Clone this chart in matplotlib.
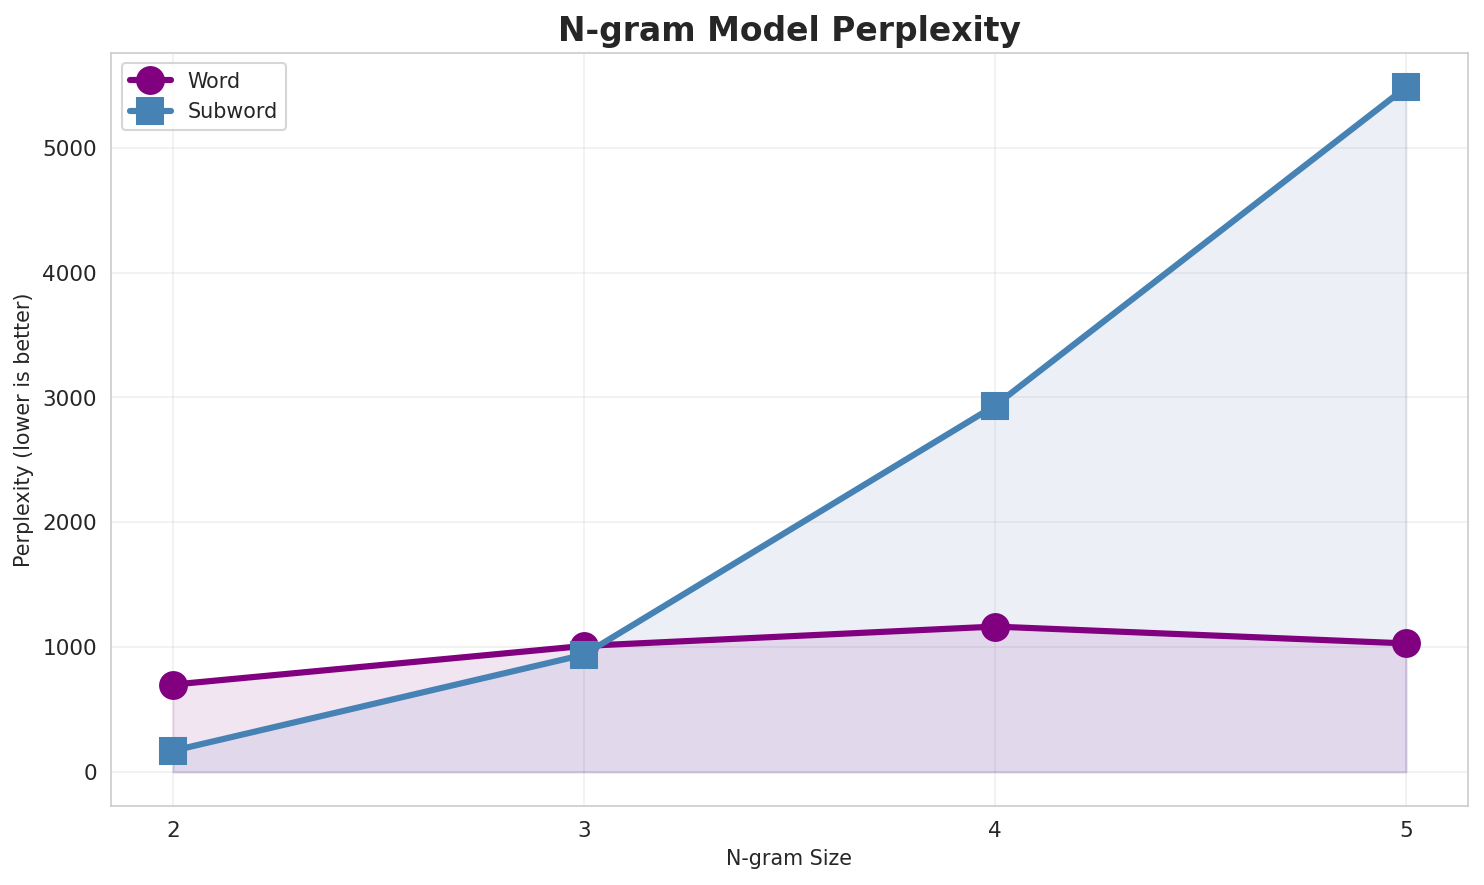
import matplotlib
matplotlib.use('Agg')
import matplotlib.pyplot as plt
import seaborn as sns

sns.set_style('whitegrid')

ngram_sizes = [2, 3, 4, 5]
word_ppl = [700, 1010, 1165, 1030]
subword_ppl = [170, 940, 2935, 5485]

fig, ax = plt.subplots(figsize=(10, 5.964), dpi=148.4)

ax.plot(ngram_sizes, word_ppl, color='purple', marker='o', linewidth=3,
        markersize=13, label='Word')
ax.plot(ngram_sizes, subword_ppl, color='steelblue', marker='s', linewidth=3,
        markersize=13, label='Subword')
ax.fill_between(ngram_sizes, word_ppl, alpha=0.1, color='purple')
ax.fill_between(ngram_sizes, subword_ppl, alpha=0.1, color='#4c72b0')

ax.set_xticks(ngram_sizes)
ax.set_xlabel('N-gram Size', fontsize=10)
ax.set_ylabel('Perplexity (lower is better)', fontsize=10)
ax.set_title('N-gram Model Perplexity', fontsize=16, fontweight='bold')
ax.tick_params(labelsize=10.5)
ax.legend(loc='upper left', fontsize=10)
ax.grid(True, alpha=0.3)

fig.subplots_adjust(left=0.075, right=0.989, top=0.940, bottom=0.089)
plt.savefig('out.png', dpi=148.4)
